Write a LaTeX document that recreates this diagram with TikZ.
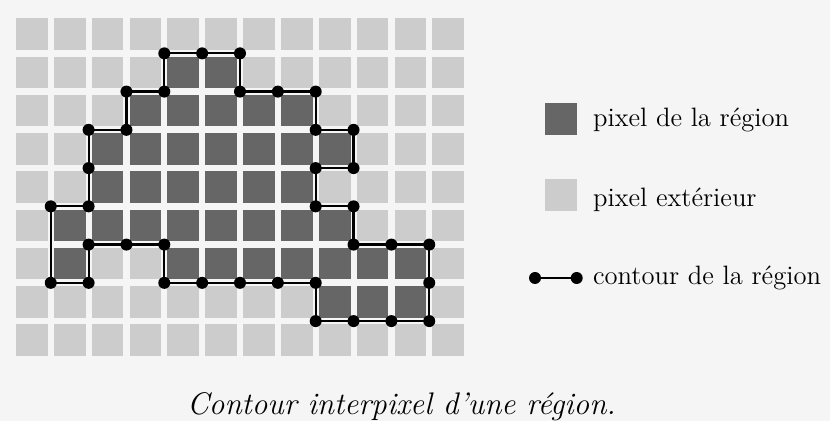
\documentclass[tikz,border=0pt]{standalone}
\begin{document}
\begin{tikzpicture}[x=0.5pt,y=-0.5pt,
  darkpix/.style={fill=black!60},
  lightpix/.style={fill=black!20},
  contour/.style={draw=black,line width=1.1pt,line join=miter},
  vdot/.style={fill=black},
  lbl/.style={anchor=base west,inner sep=0pt,font=\fontsize{13.3}{16}\selectfont}]
% page
\fill[black!4] (0,0) rectangle (830,421);
\useasboundingbox (0,0) rectangle (830,421);
% exterior pixels (full grid 12 x 9)
\foreach \i in {0,...,11}
  \foreach \j in {0,...,8}
    \fill[lightpix] ({16+37.85*\i},{18.3+38.25*\j}) rectangle ++(31.7,31.7);
% region pixels
\foreach \i/\j in {4/1,5/1,
  3/2,4/2,5/2,6/2,7/2,
  2/3,3/3,4/3,5/3,6/3,7/3,8/3,
  2/4,3/4,4/4,5/4,6/4,7/4,
  1/5,2/5,3/5,4/5,5/5,6/5,7/5,8/5,
  1/6,4/6,5/6,6/6,7/6,8/6,9/6,10/6,
  8/7,9/7,10/7}
    \fill[darkpix] ({16+37.85*\i},{18.3+38.25*\j}) rectangle ++(31.7,31.7);
% contour vertices
\foreach \k/\l in {4/1,5/1,6/1,6/2,7/2,8/2,8/3,9/3,9/4,8/4,8/5,9/5,9/6,10/6,11/6,11/7,11/8,10/8,9/8,8/8,8/7,7/7,6/7,5/7,4/7,4/6,3/6,2/6,2/7,1/7,1/5,2/5,2/4,2/3,3/3,3/2,4/2}
  \coordinate (v\k-\l) at ({12.9+37.85*\k},{15.1+38.25*\l});
\draw[contour] (v4-1) -- (v5-1) -- (v6-1) -- (v6-2) -- (v7-2) -- (v8-2) -- (v8-3) -- (v9-3) -- (v9-4) -- (v8-4) -- (v8-5) -- (v9-5) -- (v9-6) -- (v10-6) -- (v11-6) -- (v11-7) -- (v11-8) -- (v10-8) -- (v9-8) -- (v8-8) -- (v8-7) -- (v7-7) -- (v6-7) -- (v5-7) -- (v4-7) -- (v4-6) -- (v3-6) -- (v2-6) -- (v2-7) -- (v1-7) -- (v1-5) -- (v2-5) -- (v2-4) -- (v2-3) -- (v3-3) -- (v3-2) -- (v4-2) -- cycle;
\foreach \k/\l in {4/1,5/1,6/1,6/2,7/2,8/2,8/3,9/3,9/4,8/4,8/5,9/5,9/6,10/6,11/6,11/7,11/8,10/8,9/8,8/8,8/7,7/7,6/7,5/7,4/7,4/6,3/6,2/6,2/7,1/7,1/5,2/5,2/4,2/3,3/3,3/2,4/2}
  \fill[vdot] (v\k-\l) circle (3pt);
% legend
\fill[darkpix] (545,103.3) rectangle ++(31.7,31.7);
\node[lbl] (l1) at (592.7,126.7) {pixel de la r\'egion};
\fill[lightpix] (545,179.3) rectangle ++(31.7,31.7);
\node[lbl] (l2) at (592.7,206.7) {pixel ext\'erieur};
\coordinate (la) at (535,278);
\coordinate (lb) at (576.7,278);
\draw[contour] (la) -- (lb);
\fill[vdot] (la) circle (3pt) (lb) circle (3pt);
\node[lbl] (l3) at (592.7,285) {contour de la r\'egion};
% caption
\node[lbl,font=\fontsize{15.6}{18}\selectfont\itshape] (cap) at (186.7,415) {Contour interpixel d'une r\'egion.};
\end{tikzpicture}
\end{document}
